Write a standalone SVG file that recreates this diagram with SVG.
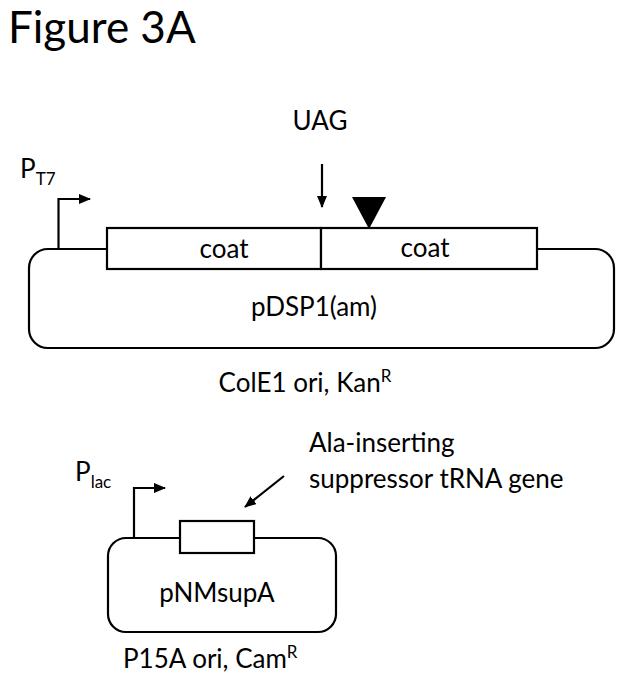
<svg xmlns="http://www.w3.org/2000/svg" width="620" height="676" viewBox="0 0 620 676">
<style>
text{font-family:Lato,"Open Sans","Liberation Sans",sans-serif;fill:#000}
.t{font-size:26px}
.sub{font-size:17px}
.ln{fill:none;stroke:#000;stroke-width:2.2}
.box{fill:#fff;stroke:#000;stroke-width:2.2}
</style>
<defs>
<marker id="ah" markerWidth="12" markerHeight="10" refX="11" refY="5" orient="auto" markerUnits="userSpaceOnUse">
<path d="M0,0 L12,5 L0,10 Z" fill="#000"/>
</marker>
</defs>
<rect width="620" height="676" fill="#fff"/>
<text x="8" y="43" style="font-size:44px">Figure 3A</text>

<g id="pDSP1">
<rect class="box" x="29" y="249" width="585" height="99" rx="19" ry="19"/>
<text class="t" x="314" y="316" text-anchor="middle">pDSP1(am)</text>
</g>
<g id="coat1">
<rect class="box" x="107" y="228" width="214" height="41"/>
<text class="t" x="224" y="258" text-anchor="middle">coat</text>
</g>
<g id="coat2">
<rect class="box" x="321" y="228" width="216" height="41"/>
<text class="t" x="425" y="257" text-anchor="middle">coat</text>
</g>
<g id="PT7">
<text class="t" x="20" y="178">P<tspan class="sub" dy="7">T7</tspan></text>
</g>
<g id="UAG">
<text class="t" x="320" y="130" text-anchor="middle">UAG</text>
</g>
<g id="site">
<polygon points="352,197 386,197 369,229" fill="#000"/>
</g>
<g id="ColE1">
<text class="t" x="305" y="392" text-anchor="middle">ColE1 ori, Kan<tspan class="sub" dy="-10">R</tspan></text>
</g>

<g id="pNMsupA">
<rect class="box" x="108" y="538" width="228" height="94" rx="18" ry="18"/>
<text class="t" x="217" y="602" text-anchor="middle">pNMsupA</text>
</g>
<g id="tRNAgene">
<rect class="box" x="180" y="521" width="74" height="32"/>
</g>
<g id="Plac">
<text class="t" x="75" y="481">P<tspan class="sub" dy="7">lac</tspan></text>
</g>
<g id="AlaLabel">
<text class="t" x="309" y="452">Ala-inserting</text>
<text class="t" x="309" y="488">suppressor tRNA gene</text>
</g>
<g id="P15A">
<text class="t" x="123" y="668">P15A ori, Cam<tspan class="sub" dy="-10">R</tspan></text>
</g>

<g id="connectors">
<path class="ln" d="M58.5,249 V199 H90" marker-end="url(#ah)"/>
<path class="ln" d="M322,164 V207" marker-end="url(#ah)"/>
<path class="ln" d="M134,538 V488 H165" marker-end="url(#ah)"/>
<path class="ln" d="M284,476 L245,507" marker-end="url(#ah)"/>
</g>
</svg>
